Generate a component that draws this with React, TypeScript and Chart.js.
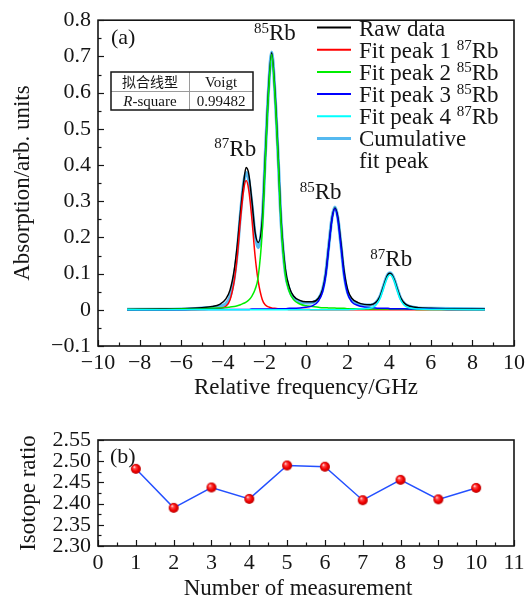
import React, { useEffect, useRef } from 'react';
import { Chart, registerables } from 'chart.js';
Chart.register(...registerables);

const SERIF = '"Liberation Serif", "Times New Roman", serif';
const CJK = '"Noto Sans CJK SC", sans-serif';
const INK = '#151515';

// ---------- panel (a): absorption spectrum ----------
const freqGHz = [-8.6, -7, -6, -5, -4.5, -4.15, -3.85, -3.65, -3.45, -3.3, -3.15, -3.0, -2.88, -2.75, -2.6, -2.45, -2.3, -2.1, -1.95, -1.8, -1.65, -1.5, -1.35, -1.2, -1.0, -0.8, -0.6, -0.3, 0, 0.3, 0.6, 0.8, 0.95, 1.1, 1.25, 1.39, 1.53, 1.68, 1.83, 2.0, 2.2, 2.5, 2.8, 3.1, 3.35, 3.55, 3.7, 3.85, 3.95, 4.04, 4.13, 4.25, 4.4, 4.55, 4.75, 5.0, 5.4, 6, 7, 8.6];
const rawData = [0.001, 0.002, 0.003, 0.006, 0.009, 0.015, 0.03, 0.055, 0.11, 0.18, 0.27, 0.35, 0.393, 0.375, 0.30, 0.215, 0.186, 0.25, 0.43, 0.61, 0.71, 0.61, 0.44, 0.25, 0.115, 0.062, 0.038, 0.026, 0.022, 0.022, 0.032, 0.056, 0.10, 0.178, 0.252, 0.281, 0.256, 0.185, 0.108, 0.056, 0.032, 0.02, 0.015, 0.014, 0.02, 0.036, 0.06, 0.086, 0.098, 0.101, 0.097, 0.082, 0.056, 0.033, 0.017, 0.01, 0.006, 0.004, 0.003, 0.002];
const fitPeak1 = [0, 0, 0, 0.001, 0.002, 0.004, 0.01, 0.028, 0.08, 0.15, 0.25, 0.33, 0.357, 0.33, 0.25, 0.15, 0.08, 0.028, 0.013, 0.008, 0.005, 0.004, 0.003, 0.002, 0.002, 0.001, 0.001, 0.001, 0.001, 0, 0, 0, 0, 0, 0, 0, 0, 0, 0, 0, 0, 0, 0, 0, 0, 0, 0, 0, 0, 0, 0, 0, 0, 0, 0, 0, 0, 0, 0, 0];
const fitPeak2 = [0.001, 0.001, 0.002, 0.003, 0.004, 0.005, 0.006, 0.008, 0.009, 0.011, 0.014, 0.018, 0.021, 0.027, 0.038, 0.056, 0.09, 0.22, 0.42, 0.6, 0.705, 0.6, 0.43, 0.24, 0.10, 0.05, 0.028, 0.016, 0.011, 0.009, 0.007, 0.006, 0.006, 0.005, 0.005, 0.005, 0.004, 0.004, 0.004, 0.003, 0.003, 0.003, 0.002, 0.002, 0.002, 0.002, 0.002, 0.002, 0.002, 0.002, 0.002, 0.002, 0.002, 0.002, 0.002, 0.002, 0.001, 0.001, 0.001, 0.001];
const fitPeak3 = [0, 0, 0, 0.001, 0.001, 0.001, 0.001, 0.001, 0.001, 0.001, 0.001, 0.001, 0.001, 0.001, 0.002, 0.002, 0.002, 0.002, 0.002, 0.002, 0.002, 0.002, 0.003, 0.003, 0.003, 0.004, 0.004, 0.005, 0.007, 0.011, 0.024, 0.05, 0.095, 0.175, 0.25, 0.279, 0.25, 0.175, 0.095, 0.045, 0.022, 0.012, 0.008, 0.006, 0.005, 0.004, 0.004, 0.004, 0.004, 0.003, 0.003, 0.003, 0.003, 0.003, 0.003, 0.002, 0.002, 0.002, 0.001, 0.001];
const fitPeak4 = [0, 0, 0, 0, 0, 0, 0, 0, 0, 0, 0, 0, 0, 0, 0, 0, 0, 0, 0, 0, 0, 0, 0, 0, 0, 0, 0, 0, 0, 0, 0, 0, 0, 0, 0, 0, 0, 0, 0, 0, 0.001, 0.002, 0.003, 0.005, 0.012, 0.030, 0.055, 0.081, 0.093, 0.097, 0.093, 0.078, 0.051, 0.027, 0.011, 0.005, 0.002, 0.001, 0.001, 0];
const cumulativeFit = [0.001, 0.001, 0.002, 0.005, 0.007, 0.010, 0.017, 0.037, 0.090, 0.162, 0.265, 0.349, 0.379, 0.358, 0.290, 0.208, 0.172, 0.250, 0.435, 0.610, 0.712, 0.606, 0.436, 0.245, 0.105, 0.055, 0.033, 0.022, 0.019, 0.020, 0.031, 0.056, 0.101, 0.180, 0.255, 0.284, 0.254, 0.179, 0.099, 0.048, 0.026, 0.017, 0.013, 0.013, 0.019, 0.036, 0.061, 0.087, 0.099, 0.102, 0.098, 0.083, 0.056, 0.032, 0.016, 0.009, 0.005, 0.004, 0.003, 0.002];

type Part = { t: string; sup?: boolean; it?: boolean };
const seriesNames: Part[][] = [
  [{ t: 'Raw data' }],
  [{ t: 'Fit peak 1 ' }, { t: '87', sup: true }, { t: 'Rb' }],
  [{ t: 'Fit peak 2 ' }, { t: '85', sup: true }, { t: 'Rb' }],
  [{ t: 'Fit peak 3 ' }, { t: '85', sup: true }, { t: 'Rb' }],
  [{ t: 'Fit peak 4 ' }, { t: '87', sup: true }, { t: 'Rb' }],
  [{ t: 'Cumulative' }],
];
const seriesNameCont: Part[] = [{ t: 'fit peak' }];
const peakLabels: { x: number; y: number; iso: string }[] = [
  { x: -3.4, y: 0.425, iso: '87' },
  { x: -1.5, y: 0.745, iso: '85' },
  { x: 0.7, y: 0.305, iso: '85' },
  { x: 4.1, y: 0.12, iso: '87' },
];
const fitTable = [
  ['拟合线型', 'Voigt'],
  ['R-square', '0.99482'],
];

// ---------- panel (b): isotope ratio ----------
const measurementNo = [1, 2, 3, 4, 5, 6, 7, 8, 9, 10];
const isotopeRatio = [2.482, 2.390, 2.438, 2.411, 2.490, 2.487, 2.408, 2.456, 2.410, 2.437];

const toPts = (ys: number[]) => freqGHz.map((x, i) => ({ x, y: ys[i] }));
const minusFmt = (v: number, d: number) => {
  const n = Number(v.toFixed(d));
  if (n === 0) return '0';
  const s = d === 2 ? Math.abs(n).toFixed(2) : String(Math.abs(n));
  return n < 0 ? '\u2212' + s : s;
};

function drawRich(ctx: CanvasRenderingContext2D, parts: Part[], x: number, base: number, size: number, align: 'left' | 'center' = 'left', supSize = Math.round(size * 0.7)) {
  ctx.textAlign = 'left';
  ctx.textBaseline = 'alphabetic';
  const fontOf = (p: Part) => `${p.it ? 'italic ' : ''}${p.sup ? supSize : size}px ${SERIF}`;
  let total = 0;
  for (const p of parts) { ctx.font = fontOf(p); total += ctx.measureText(p.t).width; }
  let cx = align === 'center' ? x - total / 2 : x;
  for (const p of parts) {
    ctx.font = fontOf(p);
    ctx.fillText(p.t, cx, p.sup ? base - size * 0.33 : base);
    cx += ctx.measureText(p.t).width;
  }
}

function drawFrameTicks(chart: any, xStep: number, xMinorStep: number, yStep: number, yMinorStep: number) {
  const { ctx, chartArea: a, scales } = chart;
  const xs = scales.x, ys = scales.y;
  ctx.save();
  ctx.strokeStyle = INK;
  ctx.lineWidth = 1.2;
  const nx = Math.round((xs.max - xs.min) / xMinorStep);
  for (let i = 0; i <= nx; i++) {
    const v = xs.min + i * xMinorStep;
    const major = Math.abs(v / xStep - Math.round(v / xStep)) < 1e-6;
    const px = Math.round(xs.getPixelForValue(v)) + 0.5;
    ctx.beginPath();
    ctx.moveTo(px, a.bottom);
    ctx.lineTo(px, a.bottom - (major ? 6 : 3.5));
    ctx.stroke();
  }
  const ny = Math.round((ys.max - ys.min) / yMinorStep);
  for (let i = 0; i <= ny; i++) {
    const v = ys.min + i * yMinorStep;
    const major = i % Math.round(yStep / yMinorStep) === 0;
    const py = Math.round(ys.getPixelForValue(v)) + 0.5;
    ctx.beginPath();
    ctx.moveTo(a.left, py);
    ctx.lineTo(a.left + (major ? 6 : 3.5), py);
    ctx.stroke();
  }
  ctx.lineWidth = 1.6;
  ctx.strokeRect(a.left, a.top, a.right - a.left, a.bottom - a.top);
  ctx.restore();
}

function drawTitles(chart: any, xTitle: string, yTitle: string, xTitleX: number, xTitleBase: number, yTitleBase: number) {
  const { ctx, chartArea: a } = chart;
  ctx.save();
  ctx.fillStyle = INK;
  ctx.font = `23px ${SERIF}`;
  ctx.textAlign = 'center';
  ctx.textBaseline = 'alphabetic';
  ctx.fillText(xTitle, xTitleX, xTitleBase);
  ctx.translate(yTitleBase, (a.top + a.bottom) / 2);
  ctx.rotate(-Math.PI / 2);
  ctx.fillText(yTitle, 0, 0);
  ctx.restore();
}

function makeSphere(r: number) {
  const c = document.createElement('canvas');
  const s = r * 2 + 2;
  c.width = s; c.height = s;
  const g = c.getContext('2d')!;
  const m = s / 2;
  const grad = g.createRadialGradient(m - r * 0.35, m - r * 0.4, r * 0.05, m, m, r);
  grad.addColorStop(0, '#ffe8e8');
  grad.addColorStop(0.25, '#ff4a4a');
  grad.addColorStop(0.65, '#f20000');
  grad.addColorStop(1, '#b80000');
  g.fillStyle = grad;
  g.beginPath();
  g.arc(m, m, r, 0, Math.PI * 2);
  g.fill();
  return c;
}

export default function App() {
  const topRef = useRef<HTMLCanvasElement>(null);
  const botRef = useRef<HTMLCanvasElement>(null);

  useEffect(() => {
    const tickFont = { family: SERIF, size: 22 };
    const lineColors = ['#000000', '#ff0000', '#00ee00', '#0000ff', '#00ffff', '#55b9f0'];

    const topDecor = {
      id: 'topDecor',
      afterDatasetsDraw(chart: any) {
        drawFrameTicks(chart, 2, 1, 0.1, 0.05);
        const { ctx, scales } = chart;
        ctx.save();
        ctx.fillStyle = INK;
        // panel tag
        drawRich(ctx, [{ t: '(a)' }], 111, 44, 22);
        // legend
        seriesNames.forEach((parts, i) => {
          const ly = 27.5 + i * 22.2;
          ctx.strokeStyle = lineColors[i];
          ctx.lineWidth = i === 5 ? 3 : 2;
          ctx.beginPath();
          ctx.moveTo(317, ly);
          ctx.lineTo(351, ly);
          ctx.stroke();
          ctx.fillStyle = INK;
          drawRich(ctx, parts, 359, 36 + i * 22, 23, 'left', 15);
        });
        drawRich(ctx, seriesNameCont, 359, 36 + 6 * 22, 23);
        // peak labels
        peakLabels.forEach((p) => {
          const px = scales.x.getPixelForValue(p.x);
          const py = scales.y.getPixelForValue(p.y);
          drawRich(ctx, [{ t: p.iso, sup: true }, { t: 'Rb' }], px, py, 23, 'center', 15);
        });
        // fit table
        const tx = 111, ty = 72, tw = 142, rh = 19, c1 = 78;
        ctx.fillStyle = '#ffffff';
        ctx.fillRect(tx, ty, tw, rh * 2);
        ctx.strokeStyle = '#9a9a9a';
        ctx.lineWidth = 1;
        ctx.beginPath();
        ctx.moveTo(tx, ty + rh + 0.5); ctx.lineTo(tx + tw, ty + rh + 0.5);
        ctx.moveTo(tx + c1 + 0.5, ty); ctx.lineTo(tx + c1 + 0.5, ty + rh * 2);
        ctx.stroke();
        ctx.strokeStyle = INK;
        ctx.lineWidth = 1.5;
        ctx.strokeRect(tx, ty, tw, rh * 2);
        ctx.fillStyle = INK;
        ctx.textAlign = 'center';
        ctx.textBaseline = 'alphabetic';
        ctx.font = `14px ${CJK}`;
        ctx.fillText(fitTable[0][0], tx + c1 / 2, ty + 15);
        drawRich(ctx, [{ t: fitTable[0][1] }], tx + c1 + (tw - c1) / 2, ty + 14.5, 15, 'center');
        const rs = fitTable[1][0];
        drawRich(ctx, [{ t: rs.slice(0, 1), it: true }, { t: rs.slice(1) }], tx + c1 / 2, ty + rh + 14.5, 15, 'center');
        drawRich(ctx, [{ t: fitTable[1][1] }], tx + c1 + (tw - c1) / 2, ty + rh + 14.5, 15, 'center');
        ctx.restore();
        drawTitles(chart, 'Relative frequency/GHz', 'Absorption/arb. units', 306, 394, 29);
      },
    };

    const datasets = [rawData, fitPeak1, fitPeak2, fitPeak3, fitPeak4, cumulativeFit].map((ys, i) => ({
      label: seriesNames[i].map((p) => p.t).join('') + (i === 5 ? ' fit peak' : ''),
      data: toPts(ys),
      borderColor: lineColors[i],
      borderWidth: i === 5 ? 3.2 : 1.5,
      pointRadius: 0,
      fill: false,
      cubicInterpolationMode: 'monotone' as const,
      order: i === 5 ? 10 : i === 0 ? 9 : 6 - i,
    }));

    const topChart = new Chart(topRef.current!, {
      type: 'line',
      data: { datasets },
      options: {
        responsive: false,
        animation: false,
        devicePixelRatio: 1,
        layout: { padding: { top: 13, right: 18, left: 0, bottom: 0 } },
        plugins: { legend: { display: false }, tooltip: { enabled: false } },
        scales: {
          x: {
            type: 'linear', min: -10, max: 10,
            grid: { display: false, drawTicks: false },
            border: { display: false },
            ticks: { stepSize: 2, padding: 4, color: INK, font: tickFont, maxRotation: 0, autoSkip: false, callback: (v: any) => minusFmt(Number(v), 1) },
            afterFit: (s: any) => { s.height = 54; },
          },
          y: {
            type: 'linear', min: -0.1, max: 0.8,
            grid: { display: false, drawTicks: false },
            border: { display: false },
            ticks: { stepSize: 0.1, padding: 7, color: INK, font: tickFont, autoSkip: false, callback: (v: any) => minusFmt(Number(v), 1) },
            afterFit: (s: any) => { s.width = 98; },
          },
        },
      },
      plugins: [topDecor],
    });

    const sphere = makeSphere(5);
    const botDecor = {
      id: 'botDecor',
      afterDatasetsDraw(chart: any) {
        drawFrameTicks(chart, 1, 0.5, 0.05, 0.025);
        const { ctx } = chart;
        ctx.save();
        ctx.fillStyle = INK;
        drawRich(ctx, [{ t: '(b)' }], 110, 63, 22);
        ctx.restore();
        drawTitles(chart, 'Number of measurement', 'Isotope ratio', 298, 195, 35);
      },
    };

    const botChart = new Chart(botRef.current!, {
      type: 'line',
      data: {
        datasets: [{
          label: 'Isotope ratio',
          data: measurementNo.map((x, i) => ({ x, y: isotopeRatio[i] })),
          borderColor: '#2450ff',
          borderWidth: 1.5,
          pointStyle: sphere as any,
          pointRadius: 5,
          tension: 0,
        }],
      },
      options: {
        responsive: false,
        animation: false,
        devicePixelRatio: 1,
        layout: { padding: { top: 40, right: 18, left: 0, bottom: 0 } },
        plugins: { legend: { display: false }, tooltip: { enabled: false } },
        scales: {
          x: {
            type: 'linear', min: 0, max: 11,
            grid: { display: false, drawTicks: false },
            border: { display: false },
            ticks: { stepSize: 1, padding: 4, color: INK, font: tickFont, maxRotation: 0, autoSkip: false },
            afterFit: (s: any) => { s.height = 55; },
          },
          y: {
            type: 'linear', min: 2.3, max: 2.55,
            grid: { display: false, drawTicks: false },
            border: { display: false },
            ticks: { stepSize: 0.05, padding: 7, color: INK, font: tickFont, autoSkip: false, callback: (v: any) => minusFmt(Number(v), 2) },
            afterFit: (s: any) => { s.width = 98; },
          },
        },
      },
      plugins: [botDecor],
    });

    return () => { topChart.destroy(); botChart.destroy(); };
  }, []);

  return (
    <div style={{ position: 'absolute', left: 0, top: 0, width: 532, height: 601, background: '#fff' }}>
      <canvas ref={topRef} width={532} height={400} style={{ position: 'absolute', left: 0, top: 0, width: 532, height: 400 }} />
      <canvas ref={botRef} width={532} height={201} style={{ position: 'absolute', left: 0, top: 400, width: 532, height: 201 }} />
    </div>
  );
}
